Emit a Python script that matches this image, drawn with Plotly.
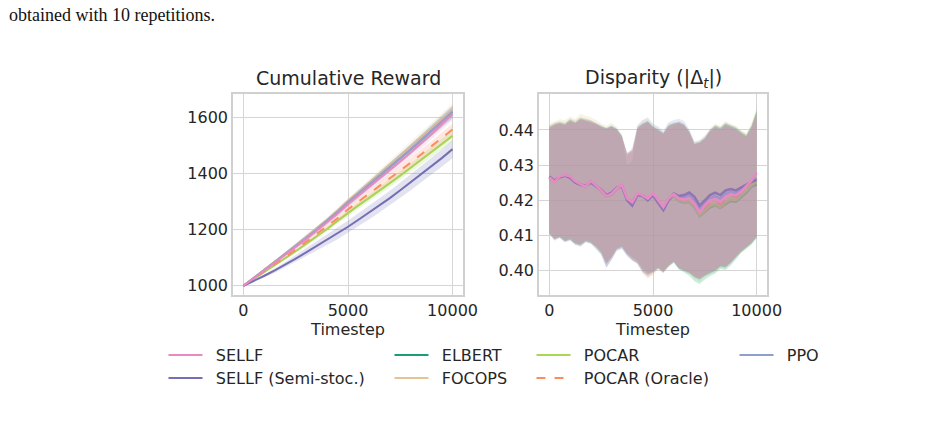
import plotly.graph_objects as go

W, H = 946, 422
W_EFF = 931  # width the plot is actually laid out at in the viewer
FONT = "DejaVu Sans"
TXT = "#262626"

names = ["SELLF", "SELLF (Semi-stoc.)", "ELBERT", "FOCOPS", "POCAR", "POCAR (Oracle)", "PPO"]
colors = {"SELLF": "#e78ac3", "SELLF (Semi-stoc.)": "#7570b3", "ELBERT": "#1b9e77",
          "FOCOPS": "#e5c494", "POCAR": "#a6d854", "POCAR (Oracle)": "#fc8d62", "PPO": "#8da0cb"}
dashes = {"POCAR (Oracle)": "dash"}

T21 = [0, 500, 1000, 1500, 2000, 2500, 3000, 3500, 4000, 4500, 5000,
       5500, 6000, 6500, 7000, 7500, 8000, 8500, 9000, 9500, 10000]
T41 = [0, 250, 500, 750, 1000, 1250, 1500, 1750, 2000, 2250, 2500, 2750, 3000, 3250, 3500,
       3750, 4000, 4250, 4500, 4750, 5000, 5250, 5500, 5750, 6000, 6250, 6500, 6750, 7000,
       7250, 7500, 7750, 8000, 8250, 8500, 8750, 9000, 9250, 9500, 9750, 10000]

# ---------------- Cumulative reward ----------------
rew_mean = {
    "SELLF": [1000,1027,1054,1082,1110,1138,1166,1195,1225,1256,1290,1320,1350,1380,1411,1442,1474,1506,1540,1575,1610],
    "SELLF (Semi-stoc.)": [1000,1017,1036,1055,1075,1097,1119,1141,1163,1186,1210,1235,1260,1286,1312,1340,1368,1396,1425,1455,1486],
    "ELBERT": [1000,1028,1056,1084,1112,1141,1170,1200,1230,1262,1296,1327,1358,1389,1421,1453,1485,1518,1551,1585,1619],
    "FOCOPS": [1000,1028,1057,1086,1115,1144,1174,1204,1235,1268,1303,1334,1366,1398,1430,1463,1496,1529,1562,1595,1628],
    "POCAR": [1000,1024,1049,1073,1098,1123,1149,1175,1202,1231,1260,1286,1312,1338,1365,1392,1420,1448,1476,1504,1533],
    "POCAR (Oracle)": [1000,1025,1051,1077,1103,1129,1156,1183,1211,1240,1272,1299,1326,1354,1382,1410,1438,1467,1496,1526,1556],
    "PPO": [1000,1028,1056,1084,1112,1141,1170,1200,1231,1263,1297,1328,1359,1390,1422,1454,1486,1519,1552,1585,1618],
}
rew_hi = {
    "SELLF": [1000,1029,1057,1086,1115,1144,1173,1203,1234,1266,1301,1332,1363,1394,1426,1458,1491,1524,1559,1595,1631],
    "SELLF (Semi-stoc.)": [1000,1020,1042,1063,1085,1109,1133,1157,1181,1206,1232,1258,1284,1311,1338,1367,1396,1425,1455,1486,1518],
    "ELBERT": [1000,1030,1059,1089,1118,1148,1178,1209,1240,1273,1308,1340,1372,1404,1437,1470,1503,1537,1571,1606,1641],
    "FOCOPS": [1000,1030,1060,1090,1120,1150,1181,1212,1244,1278,1314,1346,1379,1412,1445,1479,1513,1547,1581,1615,1649],
    "POCAR": [1000,1025,1051,1076,1102,1128,1155,1182,1210,1240,1270,1297,1324,1351,1379,1407,1436,1465,1494,1523,1553],
    "POCAR (Oracle)": [1000,1027,1054,1081,1108,1135,1163,1191,1220,1250,1283,1311,1339,1368,1397,1426,1455,1485,1515,1546,1577],
    "PPO": [1000,1030,1059,1088,1117,1147,1177,1208,1240,1273,1308,1340,1372,1404,1437,1470,1503,1537,1571,1605,1639],
}
rew_lo = {
    "SELLF": [1000,1025,1051,1078,1105,1132,1159,1187,1216,1246,1279,1308,1337,1366,1396,1426,1457,1488,1521,1555,1589],
    "SELLF (Semi-stoc.)": [1000,1014,1030,1047,1065,1085,1105,1125,1145,1166,1188,1212,1236,1261,1286,1313,1340,1367,1395,1424,1454],
    "ELBERT": [1000,1026,1053,1079,1106,1134,1162,1191,1220,1251,1284,1314,1344,1374,1405,1436,1467,1499,1531,1564,1597],
    "FOCOPS": [1000,1026,1054,1082,1110,1138,1167,1196,1226,1258,1292,1322,1353,1384,1415,1447,1479,1511,1543,1575,1607],
    "POCAR": [1000,1023,1047,1070,1094,1118,1143,1168,1194,1222,1250,1275,1300,1325,1351,1377,1404,1431,1458,1485,1513],
    "POCAR (Oracle)": [1000,1023,1048,1073,1098,1123,1149,1175,1202,1230,1261,1287,1313,1340,1367,1394,1421,1449,1477,1506,1535],
    "PPO": [1000,1026,1053,1080,1107,1135,1163,1192,1222,1253,1286,1316,1346,1376,1407,1438,1469,1501,1533,1565,1597],
}

# ---------------- Disparity (at T41) ----------------
disp_mean = {
    "SELLF": [0.4265,0.4252,0.4268,0.4272,0.4268,0.4254,0.4246,0.4238,0.4255,0.4242,0.4228,0.4212,0.4218,0.4234,0.4243,
              0.4205,0.4194,0.4220,0.4214,0.4205,0.4220,0.4200,0.4180,0.4205,0.4218,0.4205,0.4202,0.4206,0.4190,
              0.4166,0.4185,0.4200,0.4204,0.4195,0.4210,0.4218,0.4214,0.4225,0.4240,0.4256,0.4278],
    "SELLF (Semi-stoc.)": [0.4268,0.4256,0.4266,0.4270,0.4264,0.4250,0.4244,0.4240,0.4250,0.4240,0.4230,0.4215,0.4222,0.4236,0.4240,
              0.4200,0.4185,0.4215,0.4212,0.4200,0.4214,0.4192,0.4172,0.4200,0.4220,0.4212,0.4215,0.4222,0.4210,
              0.4185,0.4200,0.4215,0.4222,0.4215,0.4228,0.4232,0.4228,0.4236,0.4245,0.4252,0.4258],
    "ELBERT": [0.4262,0.4255,0.4264,0.4270,0.4265,0.4252,0.4244,0.4240,0.4252,0.4240,0.4226,0.4212,0.4216,0.4232,0.4240,
               0.4204,0.4192,0.4216,0.4212,0.4202,0.4216,0.4196,0.4176,0.4200,0.4212,0.4198,0.4194,0.4196,0.4180,
               0.4155,0.4168,0.4180,0.4186,0.4178,0.4190,0.4198,0.4196,0.4208,0.4222,0.4238,0.4245],
    "FOCOPS": [0.4264,0.4254,0.4266,0.4271,0.4266,0.4253,0.4245,0.4239,0.4254,0.4241,0.4227,0.4213,0.4217,0.4233,0.4242,
               0.4206,0.4195,0.4218,0.4213,0.4204,0.4218,0.4198,0.4178,0.4203,0.4216,0.4203,0.4200,0.4203,0.4187,
               0.4162,0.4178,0.4192,0.4196,0.4188,0.4202,0.4210,0.4208,0.4220,0.4235,0.4252,0.4265],
    "POCAR": [0.4263,0.4253,0.4265,0.4270,0.4266,0.4252,0.4245,0.4238,0.4253,0.4241,0.4226,0.4211,0.4216,0.4232,0.4241,
              0.4204,0.4193,0.4217,0.4212,0.4203,0.4217,0.4197,0.4177,0.4201,0.4213,0.4199,0.4195,0.4198,0.4182,
              0.4156,0.4170,0.4184,0.4188,0.4180,0.4194,0.4202,0.4200,0.4212,0.4226,0.4242,0.4252],
    "POCAR (Oracle)": [0.4265,0.4254,0.4267,0.4272,0.4267,0.4254,0.4246,0.4239,0.4255,0.4242,0.4228,0.4213,0.4218,0.4234,0.4243,
                       0.4206,0.4195,0.4220,0.4214,0.4205,0.4220,0.4200,0.4180,0.4204,0.4217,0.4204,0.4200,0.4204,0.4188,
                       0.4163,0.4180,0.4195,0.4198,0.4190,0.4205,0.4212,0.4210,0.4222,0.4238,0.4255,0.4272],
    "PPO": [0.4266,0.4255,0.4267,0.4271,0.4267,0.4253,0.4246,0.4240,0.4254,0.4242,0.4229,0.4214,0.4219,0.4235,0.4243,
            0.4204,0.4192,0.4218,0.4214,0.4204,0.4218,0.4196,0.4176,0.4202,0.4218,0.4208,0.4208,0.4214,0.4200,
            0.4175,0.4190,0.4205,0.4212,0.4205,0.4218,0.4224,0.4220,0.4230,0.4242,0.4254,0.4262],
}
disp_hi = {
    "SELLF": [0.4408,0.4417,0.4420,0.4416,0.4428,0.4420,0.4432,0.4428,0.4426,0.4418,0.4410,0.4402,0.4408,0.4400,0.4380,
              0.4330,0.4338,0.4403,0.4414,0.4420,0.4406,0.4398,0.4388,0.4410,0.4415,0.4418,0.4412,0.4392,0.4358,
              0.4362,0.4374,0.4393,0.4406,0.4400,0.4412,0.4406,0.4400,0.4390,0.4380,0.4405,0.4445],
    "SELLF (Semi-stoc.)": [0.4405,0.4414,0.4418,0.4414,0.4425,0.4418,0.4430,0.4426,0.4422,0.4416,0.4408,0.4404,0.4410,0.4402,0.4382,
              0.4334,0.4342,0.4406,0.4418,0.4424,0.4410,0.4402,0.4392,0.4414,0.4420,0.4424,0.4416,0.4396,0.4362,
              0.4366,0.4378,0.4398,0.4410,0.4404,0.4416,0.4410,0.4404,0.4392,0.4382,0.4408,0.4450],
    "ELBERT": [0.4412,0.4420,0.4424,0.4420,0.4432,0.4426,0.4436,0.4432,0.4428,0.4420,0.4412,0.4406,0.4412,0.4404,0.4384,
               0.4300,0.4312,0.4408,0.4418,0.4425,0.4410,0.4402,0.4390,0.4412,0.4418,0.4420,0.4415,0.4394,0.4360,
               0.4364,0.4376,0.4398,0.4412,0.4405,0.4418,0.4412,0.4406,0.4395,0.4386,0.4412,0.4456],
    "FOCOPS": [0.4418,0.4425,0.4430,0.4428,0.4438,0.4432,0.4446,0.4440,0.4436,0.4428,0.4418,0.4412,0.4420,0.4410,0.4388,
               0.4330,0.4350,0.4415,0.4428,0.4430,0.4414,0.4406,0.4394,0.4418,0.4422,0.4424,0.4418,0.4398,0.4368,
               0.4372,0.4385,0.4405,0.4418,0.4412,0.4425,0.4418,0.4412,0.4400,0.4390,0.4414,0.4458],
    "POCAR": [0.4410,0.4418,0.4422,0.4418,0.4430,0.4422,0.4434,0.4430,0.4426,0.4418,0.4410,0.4404,0.4410,0.4402,0.4382,
              0.4328,0.4336,0.4404,0.4416,0.4424,0.4408,0.4400,0.4390,0.4412,0.4418,0.4420,0.4414,0.4394,0.4360,
              0.4364,0.4376,0.4398,0.4414,0.4408,0.4420,0.4414,0.4410,0.4398,0.4388,0.4418,0.4462],
    "POCAR (Oracle)": [0.4406,0.4415,0.4420,0.4415,0.4426,0.4420,0.4430,0.4426,0.4424,0.4416,0.4408,0.4402,0.4408,0.4400,0.4378,
                       0.4332,0.4340,0.4402,0.4414,0.4420,0.4406,0.4398,0.4388,0.4408,0.4414,0.4418,0.4412,0.4392,0.4358,
                       0.4362,0.4374,0.4394,0.4406,0.4400,0.4412,0.4406,0.4400,0.4390,0.4380,0.4406,0.4448],
    "PPO": [0.4408,0.4416,0.4420,0.4416,0.4428,0.4420,0.4432,0.4428,0.4424,0.4418,0.4410,0.4406,0.4414,0.4404,0.4384,
            0.4336,0.4346,0.4412,0.4428,0.4436,0.4418,0.4410,0.4398,0.4422,0.4428,0.4432,0.4425,0.4402,0.4366,
            0.4370,0.4382,0.4402,0.4414,0.4408,0.4420,0.4412,0.4406,0.4394,0.4384,0.4410,0.4452],
}
disp_lo = {
    "SELLF": [0.4112,0.4096,0.4102,0.4092,0.4095,0.4084,0.4080,0.4090,0.4086,0.4074,0.4058,0.4025,0.4042,0.4066,0.4072,
              0.4052,0.4040,0.4030,0.4008,0.3995,0.4000,0.4014,0.4004,0.4020,0.4030,0.4012,0.4005,0.3998,0.3985,
              0.3978,0.3990,0.3998,0.4005,0.4018,0.4015,0.4026,0.4042,0.4058,0.4070,0.4082,0.4100],
    "SELLF (Semi-stoc.)": [0.4104,0.4088,0.4094,0.4082,0.4088,0.4075,0.4070,0.4082,0.4078,0.4064,0.4046,0.4008,0.4032,0.4058,0.4064,
              0.4044,0.4030,0.4022,0.3998,0.3988,0.3996,0.4008,0.3996,0.4014,0.4026,0.4006,0.4000,0.3994,0.3982,
              0.3976,0.3986,0.3994,0.4000,0.4012,0.4010,0.4022,0.4038,0.4054,0.4066,0.4078,0.4096],
    "ELBERT": [0.4106,0.4090,0.4096,0.4085,0.4090,0.4078,0.4074,0.4085,0.4080,0.4068,0.4052,0.4020,0.4038,0.4062,0.4068,
               0.4048,0.4036,0.4026,0.4004,0.3992,0.3996,0.4008,0.3998,0.4012,0.4022,0.4004,0.3995,0.3986,0.3970,
               0.3962,0.3975,0.3985,0.3992,0.4005,0.4002,0.4015,0.4032,0.4050,0.4062,0.4074,0.4092],
    "FOCOPS": [0.4104,0.4088,0.4095,0.4083,0.4088,0.4076,0.4072,0.4082,0.4078,0.4066,0.4050,0.4018,0.4036,0.4060,0.4066,
               0.4045,0.4030,0.4018,0.3992,0.3978,0.3988,0.4004,0.3992,0.4010,0.4024,0.4006,0.3998,0.3992,0.3980,
               0.3975,0.3985,0.3994,0.4000,0.4012,0.4010,0.4022,0.4040,0.4054,0.4066,0.4078,0.4096],
    "POCAR": [0.4108,0.4092,0.4098,0.4086,0.4090,0.4078,0.4076,0.4086,0.4082,0.4070,0.4054,0.4022,0.4040,0.4064,0.4070,
              0.4050,0.4038,0.4028,0.4006,0.3994,0.3998,0.4010,0.4000,0.4016,0.4026,0.4008,0.4000,0.3992,0.3978,
              0.3970,0.3982,0.3990,0.3996,0.4008,0.4006,0.4020,0.4036,0.4052,0.4064,0.4076,0.4094],
    "POCAR (Oracle)": [0.4106,0.4090,0.4096,0.4084,0.4088,0.4076,0.4074,0.4084,0.4080,0.4068,0.4052,0.4020,0.4038,0.4062,0.4068,
                       0.4046,0.4032,0.4020,0.3994,0.3980,0.3990,0.4006,0.3994,0.4012,0.4026,0.4008,0.4002,0.3995,0.3984,
                       0.3978,0.3988,0.3996,0.4002,0.4014,0.4012,0.4024,0.4040,0.4056,0.4068,0.4080,0.4098],
    "PPO": [0.4102,0.4085,0.4092,0.4080,0.4085,0.4072,0.4068,0.4080,0.4076,0.4062,0.4045,0.4010,0.4030,0.4055,0.4062,
            0.4040,0.4028,0.4020,0.3996,0.3986,0.3994,0.4004,0.3994,0.4012,0.4024,0.4004,0.3998,0.3992,0.3982,
            0.3976,0.3986,0.3994,0.4000,0.4012,0.4010,0.4022,0.4038,0.4054,0.4066,0.4078,0.4094],
}

x_ticks = [0, 5000, 10000]
rew_ticks = [1000, 1200, 1400, 1600]
disp_ticks = [0.40, 0.41, 0.42, 0.43, 0.44]


def rgba(hexc, a):
    h = hexc.lstrip("#")
    return "rgba(%d,%d,%d,%s)" % (int(h[0:2], 16), int(h[2:4], 16), int(h[4:6], 16), a)


# seaborn-like: each series draws its line then its band; SELLF last (on top)
draw_order = ["ELBERT", "FOCOPS", "POCAR", "POCAR (Oracle)", "PPO", "SELLF (Semi-stoc.)", "SELLF"]
legend_of = {"SELLF": "legend", "SELLF (Semi-stoc.)": "legend2", "ELBERT": "legend3", "FOCOPS": "legend4",
             "POCAR": "legend5", "POCAR (Oracle)": "legend6", "PPO": "legend7"}
NBSP = "\u00a0\u2009"

fig = go.Figure()
for n in draw_order:
    ln = dict(color=colors[n], width=2, dash=dashes.get(n, "solid"))
    fig.add_trace(go.Scatter(x=T21, y=rew_mean[n], mode="lines", name=NBSP + n, line=ln,
                             legend=legend_of[n], showlegend=True, xaxis="x", yaxis="y"))
    fig.add_trace(go.Scatter(x=T21 + T21[::-1], y=rew_hi[n] + rew_lo[n][::-1], fill="toself",
                             fillcolor=rgba(colors[n], 0.2), line=dict(width=0), mode="lines",
                             hoverinfo="skip", showlegend=False, xaxis="x", yaxis="y"))
for n in draw_order:
    ln = dict(color=colors[n], width=2.5, dash=dashes.get(n, "solid"))
    fig.add_trace(go.Scatter(x=T41, y=disp_mean[n], mode="lines", name=n, line=ln,
                             showlegend=False, xaxis="x2", yaxis="y2"))
    fig.add_trace(go.Scatter(x=T41 + T41[::-1], y=disp_hi[n] + disp_lo[n][::-1], fill="toself",
                             fillcolor=rgba(colors[n], 0.22), line=dict(width=0), mode="lines",
                             hoverinfo="skip", showlegend=False, xaxis="x2", yaxis="y2"))


def px_x(p):
    return p / W_EFF


def px_y(p):
    return 1 - p / H


axis_common = dict(showgrid=True, gridcolor="#d5d5d5", gridwidth=1.2, zeroline=False,
                   showline=True, linecolor="#d0d0d0", linewidth=1.6, mirror=True,
                   ticks="", tickfont=dict(family=FONT, size=16, color=TXT))

layout = dict(
    width=W, height=H, margin=dict(l=0, r=0, t=0, b=0),
    paper_bgcolor="white", plot_bgcolor="white",
    font=dict(family=FONT, size=16, color=TXT),
    xaxis=dict(domain=[px_x(233), px_x(463)], range=[-500, 10500], tickvals=x_ticks,
               ticktext=[str(v) for v in x_ticks], anchor="y",
               title=dict(text="Timestep", font=dict(family=FONT, size=16, color=TXT), standoff=3),
               **axis_common),
    yaxis=dict(domain=[px_y(295), px_y(94)], range=[967.5, 1682], tickvals=rew_ticks,
               ticktext=[str(v) for v in rew_ticks], anchor="x", **axis_common),
    xaxis2=dict(domain=[px_x(539), px_x(767)], range=[-500, 10500], tickvals=x_ticks,
                ticktext=[str(v) for v in x_ticks], anchor="y2",
                title=dict(text="Timestep", font=dict(family=FONT, size=16, color=TXT), standoff=3),
                **axis_common),
    yaxis2=dict(domain=[px_y(295), px_y(94)], range=[0.3931, 0.4502], tickvals=disp_ticks,
                ticktext=["%.2f" % v for v in disp_ticks], anchor="x2", **axis_common),
    annotations=[
        dict(text="Cumulative Reward", x=px_x(348), y=px_y(78), xref="paper", yref="paper",
             xanchor="center", yanchor="middle", showarrow=False,
             font=dict(family=FONT, size=19, color=TXT)),
        dict(text="Disparity (|Δ<sub><i>t</i></sub>|)", x=px_x(653), y=px_y(78), xref="paper", yref="paper",
             xanchor="center", yanchor="middle", showarrow=False,
             font=dict(family=FONT, size=19, color=TXT)),
        dict(text="obtained with 10 repetitions.", x=px_x(7), y=px_y(15), xref="paper", yref="paper",
             xanchor="left", yanchor="middle", showarrow=False,
             font=dict(family="Liberation Serif", size=18, color="#111111")),
    ],
)

# legend positions: line start x and row centre y (pixels)
leg_pos = {"SELLF": (170, 355), "SELLF (Semi-stoc.)": (170, 378),
           "ELBERT": (396, 355), "FOCOPS": (396, 378),
           "POCAR": (538, 355), "POCAR (Oracle)": (538, 378),
           "PPO": (741, 355)}
for n, key in legend_of.items():
    lx, ly = leg_pos[n]
    layout[key] = dict(x=px_x(lx - 6.5), y=px_y(ly), xanchor="left", yanchor="middle",
                       xref="paper", yref="paper", orientation="v", bgcolor="rgba(0,0,0,0)",
                       borderwidth=0, itemwidth=34, font=dict(family=FONT, size=16, color=TXT))

fig.update_layout(**layout)
fig.write_html("out.html")
